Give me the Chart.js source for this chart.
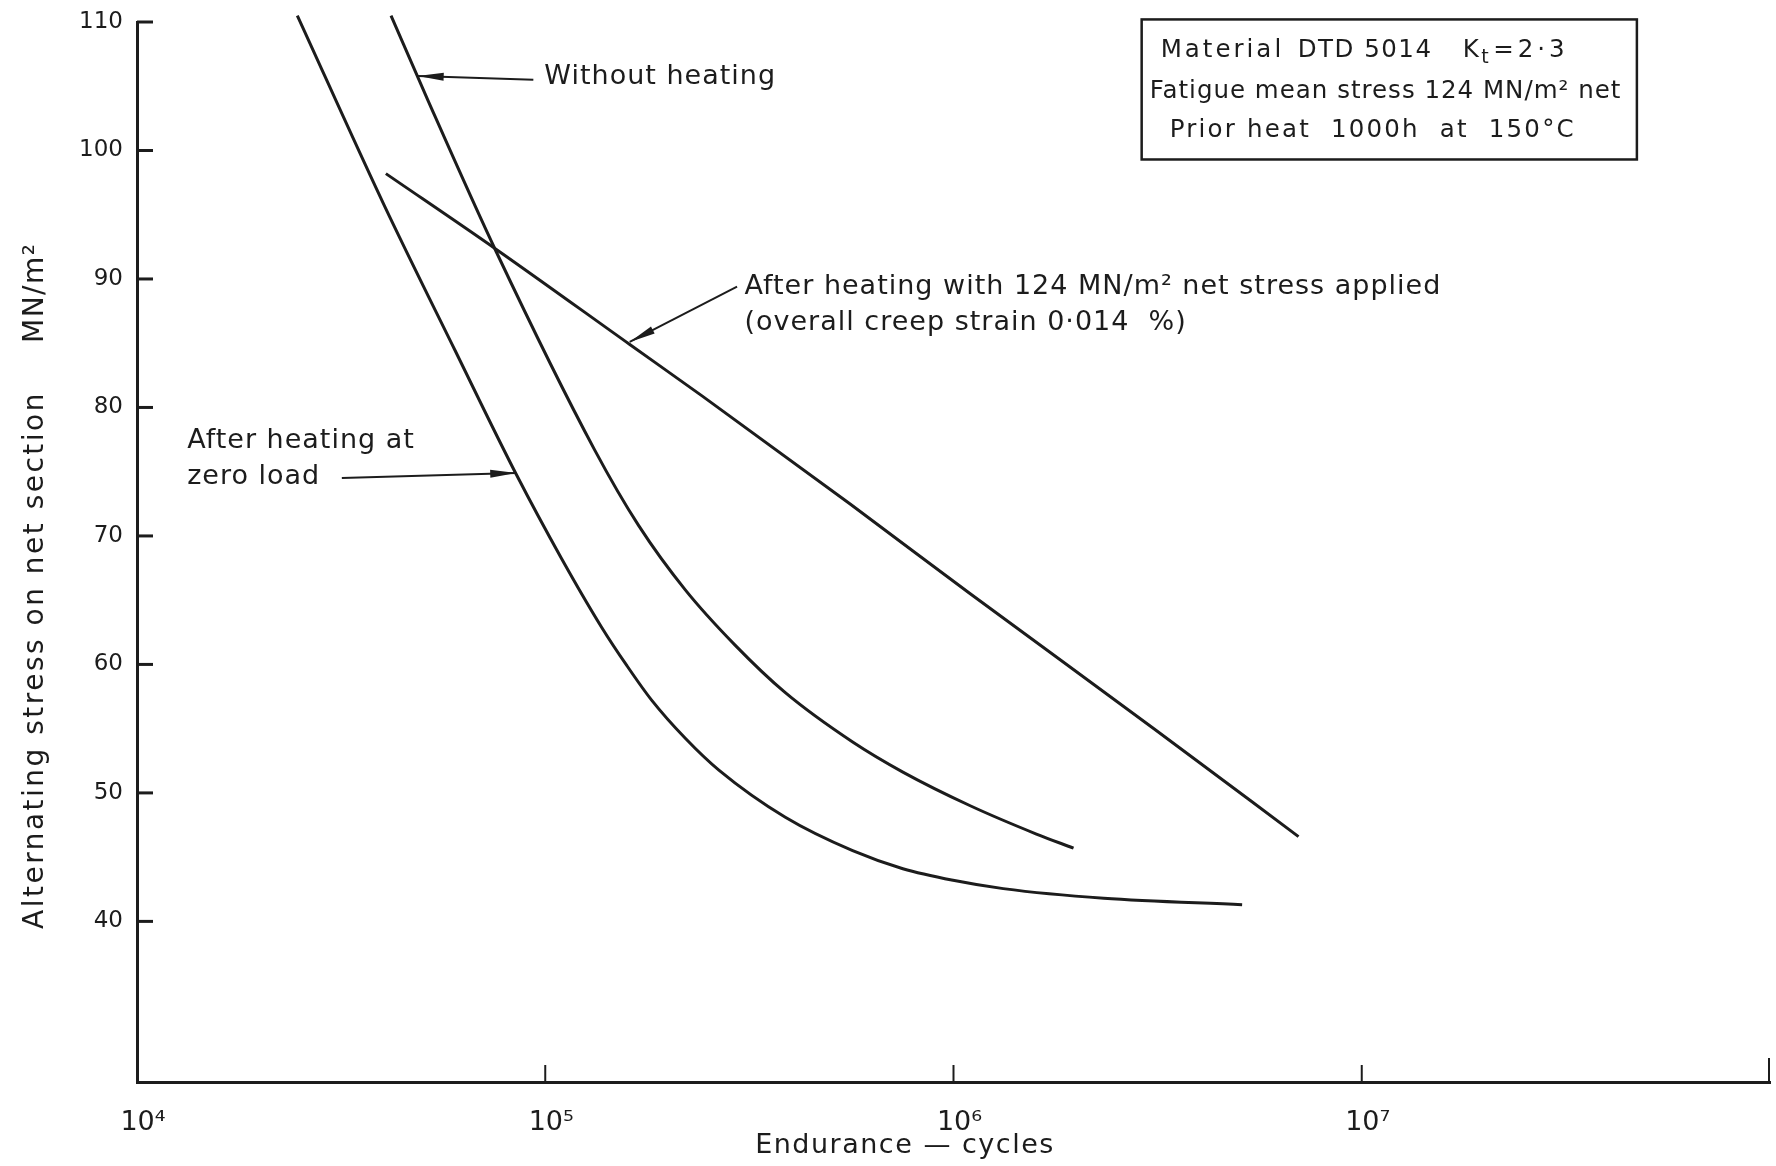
<!DOCTYPE html>
<html>
<head>
<meta charset="utf-8">
<title>Endurance curves DTD 5014</title>
<script src="https://cdn.jsdelivr.net/npm/chart.js@4.4.1/dist/chart.umd.min.js"></script>
<style>
  html, body { margin: 0; padding: 0; background: #fff; }
  #wrap { width: 1776px; height: 1166px; }
</style>
</head>
<body>
<div id="wrap"><canvas id="chart" width="1776" height="1166"></canvas></div>
<script>
// Endurance (cycles) vs alternating stress (MN/m2)
const zeroLoadN = [24700, 40300, 60100, 84900, 109600, 137400, 158500, 182400, 220300, 266700, 387300, 566200, 751600, 997700, 1324000, 2333000, 5093000]
const zeroLoadS = [110.5, 95.75, 84.45, 74.8, 68.25, 62.9, 59.9, 57.2, 54.25, 51.75, 48.1, 45.5, 44.1, 43.2, 42.55, 41.8, 41.3]

const noHeatN = [41900, 51600, 75900, 132100, 169400, 220300, 291700, 387300, 566200, 751600, 1099000, 1596000, 1968000]
const noHeatS = [110.5, 103.9, 92.1, 76.7, 70.8, 65.8, 61.5, 57.8, 53.96, 51.62, 49.0, 46.8, 45.7]

const stressedN = [40700, 75900, 161100, 242100, 557200, 1099000, 3097000, 7000000]
const stressedS = [98.2, 92.3, 84.9, 80.9, 72.5, 65.5, 55.0, 46.6]

// axes
const xTicks  = [1e4, 1e5, 1e6, 1e7]
const xLabels = ['10⁴', '10⁵', '10⁶', '10⁷']
const xEnd    = 1e8
const yTicks  = [40, 50, 60, 70, 80, 90, 100, 110]
const yMin = 27.5, yMax = 110

const xTitle = 'Endurance — cycles'
const yTitle = 'Alternating stress on net section'
const yUnit  = 'MN/m²'

// labels with leader arrows, anchored in data units [cycles, MN/m2]
const notes = [
  { lines: ['Without heating'], text: [99500, 105.7], tail: [93500, 105.5], tip: [48700, 105.8] },
  { lines: ['After heating with 124 MN/m² net stress applied', '(overall creep strain 0·014  %)'],
    text: [307600, 89.4], tail: [295000, 89.4], tip: [161000, 85.1] },
  { lines: ['After heating at', 'zero load'], text: [13270, 77.4], tail: [31750, 74.5], tip: [84900, 74.9] }
]

// info box corners in data units
const boxFrom = [2.89e6, 110.2]
const boxTo   = [4.72e7, 99.3]

const ink  = '#1c1c1c'
const FONT = '"DejaVu Sans", sans-serif'

function series(ns, ss){ return ns.map((n,i)=>({ x: n, y: ss[i] })) }

function line(label, ns, ss){
  return {
    label, data: series(ns, ss),
    borderColor: ink, borderWidth: 3, pointRadius: 0, fill: false,
    cubicInterpolationMode: 'monotone', clip: 10
  }
}

function arrow(ctx, x1, y1, x2, y2){
  const a = Math.atan2(y2-y1, x2-x1), L = 26, W = 4
  ctx.lineWidth = 2
  ctx.beginPath(); ctx.moveTo(x1, y1); ctx.lineTo(x2, y2); ctx.stroke()
  ctx.beginPath()
  ctx.moveTo(x2, y2)
  ctx.lineTo(x2 - L*Math.cos(a) + W*Math.sin(a), y2 - L*Math.sin(a) - W*Math.cos(a))
  ctx.lineTo(x2 - L*Math.cos(a) - W*Math.sin(a), y2 - L*Math.sin(a) + W*Math.cos(a))
  ctx.closePath(); ctx.fill()
}

// ticks drawn inward, annotations, info box, axis titles
const drawings = {
  id: 'drawings',
  afterDraw(chart){
    const ctx = chart.ctx, xs = chart.scales.x, ys = chart.scales.y
    const px = v => xs.getPixelForValue(v), py = v => ys.getPixelForValue(v)
    const area = chart.chartArea
    ctx.save()
    ctx.strokeStyle = ink; ctx.fillStyle = ink; ctx.lineCap = 'butt'

    // inward tick marks
    ctx.lineWidth = 3
    yTicks.forEach(v => { ctx.beginPath(); ctx.moveTo(area.left, py(v)); ctx.lineTo(area.left + 16, py(v)); ctx.stroke() })
    ctx.lineWidth = 2
    xTicks.slice(1).forEach(v => { ctx.beginPath(); ctx.moveTo(px(v), area.bottom); ctx.lineTo(px(v), area.bottom - 17); ctx.stroke() })
    ctx.beginPath(); ctx.moveTo(px(xEnd) - 1, area.bottom + 1); ctx.lineTo(px(xEnd) - 1, area.bottom - 24); ctx.stroke()

    // notes
    ctx.font = `27px ${FONT}`; ctx.textAlign = 'left'; ctx.textBaseline = 'middle'
    ctx.letterSpacing = '1px'
    notes.forEach(n => {
      n.lines.forEach((t, i) => ctx.fillText(t, px(n.text[0]), py(n.text[1]) + i*36))
      arrow(ctx, px(n.tail[0]), py(n.tail[1]), px(n.tip[0]), py(n.tip[1]))
    })

    // info box
    const bx = px(boxFrom[0]), by = py(boxFrom[1]), bw = px(boxTo[0]) - bx, bh = py(boxTo[1]) - by
    ctx.lineWidth = 2.5
    ctx.strokeRect(bx, by, bw, bh)
    const f = `24.5px ${FONT}`
    ctx.font = f
    ctx.letterSpacing = '3px'
    ctx.fillText('Material', bx + 19, by + 31)
    ctx.letterSpacing = '1.5px'
    ctx.fillText('DTD 5014', bx + 156, by + 31)
    let kx = bx + 321
    ctx.fillText('K', kx, by + 31)
    kx += ctx.measureText('K').width
    ctx.font = `19px ${FONT}`
    ctx.fillText('t', kx + 1, by + 39)
    kx += ctx.measureText('t').width + 4
    ctx.font = f
    ctx.letterSpacing = '4px'
    ctx.fillText('=2·3', kx, by + 31)
    ctx.letterSpacing = '1px'
    ctx.fillText('Fatigue mean stress 124 MN/m² net', bx + 8, by + 72)
    ctx.letterSpacing = '2.2px'
    ctx.fillText('Prior heat  1000h  at  150°C', bx + 28, by + 111)

    // axis titles
    ctx.font = `27px ${FONT}`
    ctx.textAlign = 'center'
    ctx.letterSpacing = '1.5px'
    ctx.fillText(xTitle, 905, 1146)
    ctx.save()
    ctx.translate(36, 0)
    ctx.rotate(-Math.PI/2)
    ctx.font = `28px ${FONT}`
    ctx.textAlign = 'left'
    ctx.letterSpacing = '2.5px'
    ctx.fillText(yTitle, -929, 0)
    ctx.letterSpacing = '1.5px'
    ctx.fillText(yUnit, -343, 0)
    ctx.restore()

    ctx.restore()
  }
}

new Chart(document.getElementById('chart'), {
  type: 'line',
  data: {
    datasets: [
      line('After heating at zero load', zeroLoadN, zeroLoadS),
      line('Without heating', noHeatN, noHeatS),
      line('After heating with 124 MN/m² net stress applied', stressedN, stressedS)
    ]
  },
  options: {
    responsive: false,
    animation: false,
    devicePixelRatio: 1,
    layout: { padding: { left: 0, top: 22, right: 6, bottom: 0 } },
    plugins: { legend: { display: false }, tooltip: { enabled: false }, title: { display: false } },
    scales: {
      x: {
        type: 'logarithmic', min: xTicks[0], max: xEnd,
        afterBuildTicks: s => { s.ticks = xTicks.map(v => ({ value: v })) },
        afterFit: s => { s.height = 84 },
        grid: { display: false, drawTicks: false },
        border: { display: true, color: ink, width: 3 },
        ticks: {
          color: ink, font: { family: FONT, size: 27 }, padding: 25, labelOffset: 6,
          maxRotation: 0, autoSkip: false,
          callback: v => xLabels[xTicks.indexOf(v)] ?? ''
        }
      },
      y: {
        type: 'linear', min: yMin, max: yMax,
        afterBuildTicks: s => { s.ticks = yTicks.map(v => ({ value: v })) },
        afterFit: s => { s.width = 137; s.paddingTop = 0; s.paddingBottom = 0 },
        grid: { display: false, drawTicks: false },
        border: { display: true, color: ink, width: 3 },
        ticks: { color: ink, font: { family: FONT, size: 23 }, padding: 14 }
      }
    }
  },
  plugins: [drawings]
})
</script>
</body>
</html>
